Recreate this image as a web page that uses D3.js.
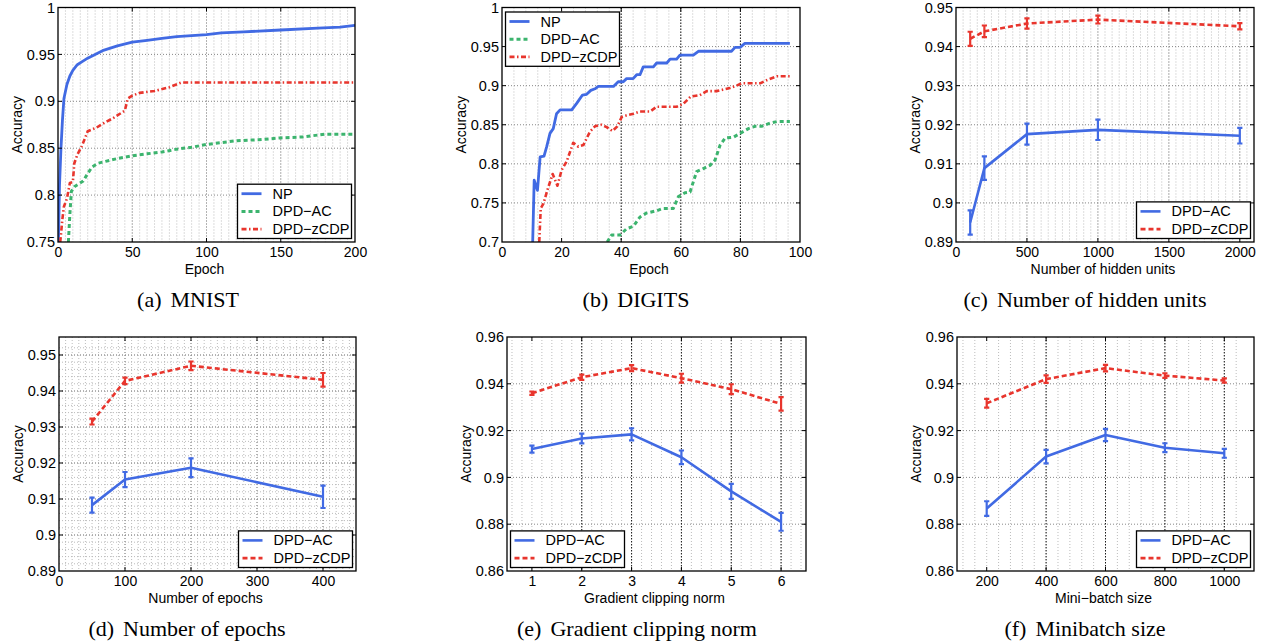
<!DOCTYPE html>
<html>
<head>
<meta charset="utf-8">
<script src="https://cdn.jsdelivr.net/npm/d3@7"></script>
<style>
  body { margin: 0; background: #fff; }
  svg { display: block; }
</style>
</head>
<body>
<div id="chart"></div>
<script>
// ---------- data ----------

// (a) MNIST
const mnistNpEpoch = [0.3, 1, 2, 3, 4, 6, 8, 10, 13, 16, 20, 25, 30, 40, 50, 60, 70, 80, 90, 100, 110, 125, 150, 175, 190, 200];
const mnistNpAcc = [0.75, 0.81, 0.85, 0.88, 0.903, 0.918, 0.927, 0.933, 0.939, 0.942, 0.946, 0.950, 0.954, 0.959, 0.963, 0.965, 0.967, 0.969, 0.970, 0.971, 0.973, 0.974, 0.976, 0.978, 0.979, 0.981];
const mnistAcEpoch = [7, 8, 9, 11, 14, 17, 20, 23, 27, 32, 40, 50, 60, 70, 80, 90, 100, 110, 120, 135, 150, 165, 180, 190, 200];
const mnistAcAcc = [0.75, 0.78, 0.804, 0.809, 0.812, 0.815, 0.823, 0.830, 0.834, 0.836, 0.839, 0.842, 0.844, 0.846, 0.849, 0.851, 0.854, 0.856, 0.858, 0.859, 0.861, 0.862, 0.865, 0.865, 0.865];
const mnistZcdpEpoch = [1.5, 3, 4, 6, 8, 10, 11, 13, 16, 18, 20, 23, 26, 30, 37, 45, 47, 50, 55, 65, 75, 83, 90, 120, 150, 200];
const mnistZcdpAcc = [0.75, 0.775, 0.788, 0.796, 0.813, 0.814, 0.834, 0.843, 0.852, 0.86, 0.868, 0.870, 0.872, 0.876, 0.882, 0.890, 0.903, 0.906, 0.909, 0.911, 0.915, 0.920, 0.920, 0.920, 0.920, 0.920];

// (b) DIGITS
const digitsNpEpoch = [10.3, 10.8, 11.9, 12.8, 14.1, 15, 16.1, 17.2, 18.3, 19.5, 23.4, 25, 27, 28.4, 29.8, 31.2, 32.3, 37.4, 39, 40.7, 41.8, 44, 45.2, 46.3, 47.4, 50.8, 51.9, 55.3, 56.4, 58.6, 59.7, 64.2, 65.9, 77, 78.2, 79.9, 81.5, 96.6];
const digitsNpAcc = [0.70, 0.779, 0.766, 0.809, 0.81, 0.822, 0.839, 0.845, 0.864, 0.869, 0.869, 0.877, 0.888, 0.889, 0.894, 0.896, 0.899, 0.899, 0.905, 0.905, 0.909, 0.909, 0.914, 0.914, 0.924, 0.924, 0.929, 0.929, 0.934, 0.934, 0.939, 0.939, 0.944, 0.944, 0.949, 0.949, 0.954, 0.954];
const digitsAcEpoch = [35.3, 36.8, 39.6, 41.8, 44.1, 46.3, 48.5, 51.9, 54.1, 57.5, 59.2, 61.4, 63.1, 65.3, 67.6, 69.8, 71.5, 73.2, 74.9, 77.6, 79.9, 82.7, 84.9, 87.1, 89.9, 92.2, 96.6];
const digitsAcAcc = [0.70, 0.709, 0.709, 0.717, 0.72, 0.732, 0.737, 0.74, 0.743, 0.743, 0.758, 0.763, 0.764, 0.79, 0.794, 0.798, 0.805, 0.824, 0.833, 0.834, 0.839, 0.845, 0.848, 0.848, 0.852, 0.854, 0.854];
const digitsZcdpEpoch = [12.5, 13, 13.9, 15.2, 17, 18.6, 20, 21.7, 23.9, 25.6, 27.3, 29.5, 31.2, 33.4, 35.1, 37.1, 38.7, 40.2, 41.8, 44.1, 46.3, 49.7, 51.9, 58.6, 60.9, 63.3, 66.4, 68.7, 72, 76.5, 78.7, 80.4, 86.6, 88.8, 92.2, 96.6];
const digitsZcdpAcc = [0.70, 0.743, 0.749, 0.766, 0.787, 0.772, 0.792, 0.803, 0.827, 0.822, 0.824, 0.841, 0.848, 0.850, 0.847, 0.842, 0.848, 0.86, 0.862, 0.864, 0.867, 0.867, 0.873, 0.873, 0.877, 0.886, 0.888, 0.893, 0.893, 0.897, 0.9, 0.903, 0.903, 0.907, 0.912, 0.912];

// (c) number of hidden units
const hiddenUnits = [100, 200, 500, 1000, 2000];
const hiddenAcMean = [0.8950, 0.9089, 0.9176, 0.9187, 0.9172];
const hiddenAcErr = [0.0031, 0.0030, 0.0027, 0.0026, 0.0020];
const hiddenZcdpMean = [0.9420, 0.9439, 0.9459, 0.9469, 0.9452];
const hiddenZcdpErr = [0.0018, 0.0015, 0.0013, 0.0010, 0.0008];

// (d) number of epochs
const numEpochs = [50, 100, 200, 400];
const epochsAcMean = [0.9083, 0.9154, 0.9187, 0.9106];
const epochsAcErr = [0.0021, 0.0021, 0.0026, 0.0031];
const epochsZcdpMean = [0.9315, 0.9428, 0.9470, 0.9431];
const epochsZcdpErr = [0.0008, 0.0009, 0.0012, 0.0019];

// (e) gradient clipping norm
const clipNorm = [1, 2, 3, 4, 5, 6];
const clipAcMean = [0.9121, 0.9166, 0.9184, 0.9086, 0.8940, 0.8810];
const clipAcErr = [0.0015, 0.0021, 0.0026, 0.0029, 0.0032, 0.0038];
const clipZcdpMean = [0.9360, 0.9428, 0.9467, 0.9424, 0.9377, 0.9314];
const clipZcdpErr = [0.0007, 0.0011, 0.0013, 0.0019, 0.0021, 0.0029];

// (f) minibatch size
const batchSize = [200, 400, 600, 800, 1000];
const batchAcMean = [0.8867, 0.9089, 0.9181, 0.9127, 0.9103];
const batchAcErr = [0.0031, 0.0029, 0.0026, 0.0019, 0.0019];
const batchZcdpMean = [0.9317, 0.9420, 0.9467, 0.9435, 0.9414];
const batchZcdpErr = [0.0019, 0.0016, 0.0014, 0.0010, 0.0009];

// tick values
const mnistXTicks = [0, 50, 100, 150, 200];
const mnistYTicks = [0.75, 0.8, 0.85, 0.9, 0.95, 1];
const digitsXTicks = [0, 20, 40, 60, 80, 100];
const digitsYTicks = [0.7, 0.75, 0.8, 0.85, 0.9, 0.95, 1];
const hiddenXTicks = [0, 500, 1000, 1500, 2000];
const hiddenYTicks = [0.89, 0.9, 0.91, 0.92, 0.93, 0.94, 0.95];
const epochsXTicks = [0, 100, 200, 300, 400];
const epochsYTicks = [0.89, 0.9, 0.91, 0.92, 0.93, 0.94, 0.95];
const clipXTicks = [1, 2, 3, 4, 5, 6];
const clipYTicks = [0.86, 0.88, 0.9, 0.92, 0.94, 0.96];
const batchXTicks = [200, 400, 600, 800, 1000];
const batchYTicks = [0.86, 0.88, 0.9, 0.92, 0.94, 0.96];

const labelNP = 'NP', labelAC = 'DPD\u2212AC', labelZCDP = 'DPD\u2212zCDP';

// ---------- styles and layout ----------
const fig_width = 1263, fig_height = 642;
const sansFont = '"Liberation Sans", Arial, Helvetica, sans-serif';
const serifFont = '"Liberation Serif", "Times New Roman", serif';
const tickFmt = d3.format( '~g' );

const blue = '#416ae3', green = '#3cb46e', red = '#e8352d';
const lineStyles = {
  np:       { color: blue,  width: 2.8, dash: null },
  acDash:   { color: green, width: 3,   dash: '4,3' },
  zcdpDot:  { color: red,   width: 2.6, dash: '5,2.5,1.5,2.5' },
  acSolid:  { color: blue,  width: 2.6, dash: null },
  zcdpDash: { color: red,   width: 2.6, dash: '5,3' }
};

const panels = [
  { left: 58, top: 7.5, w: 297, h: 234.5, xDomain: [0, 200], yDomain: [0.75, 1],
    xTicks: mnistXTicks, yTicks: mnistYTicks, xMinor: 5, yMinor: null, darkX: false,
    xTitle: 'Epoch', caption: ['(a)', 'MNIST'], captionX: 188, legend: 'br',
    series: [
      { x: mnistNpEpoch, y: mnistNpAcc, style: 'np', label: labelNP },
      { x: mnistAcEpoch, y: mnistAcAcc, style: 'acDash', label: labelAC },
      { x: mnistZcdpEpoch, y: mnistZcdpAcc, style: 'zcdpDot', label: labelZCDP } ] },
  { left: 502, top: 7.5, w: 298, h: 234.5, xDomain: [0, 100], yDomain: [0.7, 1],
    xTicks: digitsXTicks, yTicks: digitsYTicks, xMinor: 4, yMinor: null, darkX: true,
    xTitle: 'Epoch', caption: ['(b)', 'DIGITS'], captionX: 636, legend: 'tl',
    series: [
      { x: digitsNpEpoch, y: digitsNpAcc, style: 'np', label: labelNP },
      { x: digitsAcEpoch, y: digitsAcAcc, style: 'acDash', label: labelAC },
      { x: digitsZcdpEpoch, y: digitsZcdpAcc, style: 'zcdpDot', label: labelZCDP } ] },
  { left: 956, top: 7.5, w: 298, h: 234.5, xDomain: [0, 2100], yDomain: [0.89, 0.95],
    xTicks: hiddenXTicks, yTicks: hiddenYTicks, xMinor: 50, yMinor: null, darkX: false,
    xTitle: 'Number of hidden units', caption: ['(c)', 'Number of hidden units'], captionX: 1085, legend: 'br',
    series: [
      { x: hiddenUnits, y: hiddenAcMean, err: hiddenAcErr, style: 'acSolid', label: labelAC },
      { x: hiddenUnits, y: hiddenZcdpMean, err: hiddenZcdpErr, style: 'zcdpDash', label: labelZCDP } ] },
  { left: 59, top: 337, w: 297, h: 234, xDomain: [0, 450], yDomain: [0.89, 0.955],
    xTicks: epochsXTicks, yTicks: epochsYTicks, xMinor: 10, yMinor: 0.002, darkX: false,
    xTitle: 'Number of epochs', caption: ['(d)', 'Number of epochs'], captionX: 187, legend: 'br',
    series: [
      { x: numEpochs, y: epochsAcMean, err: epochsAcErr, style: 'acSolid', label: labelAC },
      { x: numEpochs, y: epochsZcdpMean, err: epochsZcdpErr, style: 'zcdpDash', label: labelZCDP } ] },
  { left: 507, top: 337, w: 299, h: 234, xDomain: [0.5, 6.5], yDomain: [0.86, 0.96],
    xTicks: clipXTicks, yTicks: clipYTicks, xMinor: 0.2, yMinor: null, darkX: true,
    xTitle: 'Gradient clipping norm', caption: ['(e)', 'Gradient clipping norm'], captionX: 637, legend: 'bl',
    series: [
      { x: clipNorm, y: clipAcMean, err: clipAcErr, style: 'acSolid', label: labelAC },
      { x: clipNorm, y: clipZcdpMean, err: clipZcdpErr, style: 'zcdpDash', label: labelZCDP } ] },
  { left: 957, top: 337, w: 297, h: 234, xDomain: [100, 1100], yDomain: [0.86, 0.96],
    xTicks: batchXTicks, yTicks: batchYTicks, xMinor: 40, yMinor: null, darkX: true,
    xTitle: 'Mini\u2212batch size', caption: ['(f)', 'Minibatch size'], captionX: 1085, legend: 'br',
    series: [
      { x: batchSize, y: batchAcMean, err: batchAcErr, style: 'acSolid', label: labelAC },
      { x: batchSize, y: batchZcdpMean, err: batchZcdpErr, style: 'zcdpDash', label: labelZCDP } ] }
];

const svg = d3.select( 'div#chart' )
  .append( 'svg' )
    .attr( 'width', fig_width )
    .attr( 'height', fig_height );

// minor grid positions aligned with the major ticks
function minorRange( domain, step ) {
  const start = Math.ceil( domain[0] / step - 1e-9 ) * step;
  return d3.range( start, domain[1] - step / 2, step ).filter( function( v ) { return v > domain[0] + 1e-9; } );
}

function drawPanel( p, idx ) {
  const x = d3.scaleLinear().domain( p.xDomain ).range( [ 0, p.w ] );
  const y = d3.scaleLinear().domain( p.yDomain ).range( [ p.h, 0 ] );

  const g = svg.append( 'g' )
    .attr( 'transform', 'translate(' + p.left + ',' + p.top + ')' );

  // minor grid
  if ( p.xMinor ) {
    g.append( 'g' ).selectAll( 'line' )
      .data( minorRange( p.xDomain, p.xMinor ) )
      .enter().append( 'line' )
        .attr( 'x1', function( d ) { return x( d ); } )
        .attr( 'x2', function( d ) { return x( d ); } )
        .attr( 'y1', 0 ).attr( 'y2', p.h )
        .attr( 'stroke', '#b4b4b4' ).attr( 'stroke-width', 0.9 ).attr( 'stroke-dasharray', '1,2' );
  }
  if ( p.yMinor ) {
    g.append( 'g' ).selectAll( 'line' )
      .data( minorRange( p.yDomain, p.yMinor ) )
      .enter().append( 'line' )
        .attr( 'y1', function( d ) { return y( d ); } )
        .attr( 'y2', function( d ) { return y( d ); } )
        .attr( 'x1', 0 ).attr( 'x2', p.w )
        .attr( 'stroke', '#b4b4b4' ).attr( 'stroke-width', 0.9 ).attr( 'stroke-dasharray', '1,2' );
  }

  // major grid
  const innerX = p.xTicks.filter( function( v ) { return v > p.xDomain[0] && v < p.xDomain[1]; } );
  const innerY = p.yTicks.filter( function( v ) { return v > p.yDomain[0] && v < p.yDomain[1]; } );
  g.append( 'g' ).selectAll( 'line' )
    .data( innerY )
    .enter().append( 'line' )
      .attr( 'y1', function( d ) { return y( d ); } )
      .attr( 'y2', function( d ) { return y( d ); } )
      .attr( 'x1', 0 ).attr( 'x2', p.w )
      .attr( 'stroke', '#888' ).attr( 'stroke-width', 1 ).attr( 'stroke-dasharray', '1,2' );
  g.append( 'g' ).selectAll( 'line' )
    .data( p.darkX ? innerX.slice( 1 ) : innerX )
    .enter().append( 'line' )
      .attr( 'x1', function( d ) { return x( d ); } )
      .attr( 'x2', function( d ) { return x( d ); } )
      .attr( 'y1', 0 ).attr( 'y2', p.h )
      .attr( 'stroke', p.darkX ? '#1a1a1a' : '#888' )
      .attr( 'stroke-width', 1 )
      .attr( 'stroke-dasharray', p.darkX ? '1.5,1.5' : '1,2' );

  // clip for the curves
  const clipId = 'clip' + idx;
  g.append( 'clipPath' ).attr( 'id', clipId )
    .append( 'rect' ).attr( 'width', p.w ).attr( 'height', p.h );

  const line = d3.line()
    .x( function( d ) { return x( d[0] ); } )
    .y( function( d ) { return y( d[1] ); } );

  p.series.forEach( function( s ) {
    const st = lineStyles[ s.style ];
    const pts = d3.zip( s.x, s.y );
    g.append( 'path' )
      .datum( pts )
      .attr( 'clip-path', 'url(#' + clipId + ')' )
      .attr( 'd', line )
      .attr( 'fill', 'none' )
      .attr( 'stroke', st.color )
      .attr( 'stroke-width', st.width )
      .attr( 'stroke-dasharray', st.dash )
      .attr( 'stroke-linejoin', 'round' );

    if ( s.err ) {
      const cap = 2.6;
      g.append( 'g' ).selectAll( 'path' )
        .data( d3.zip( s.x, s.y, s.err ) )
        .enter().append( 'path' )
          .attr( 'd', function( d ) {
            const cx = x( d[0] ), lo = y( d[1] - d[2] ), hi = y( d[1] + d[2] );
            return 'M' + ( cx - cap ) + ',' + lo + 'H' + ( cx + cap ) +
                   'M' + cx + ',' + lo + 'V' + hi +
                   'M' + ( cx - cap ) + ',' + hi + 'H' + ( cx + cap );
          } )
          .attr( 'fill', 'none' )
          .attr( 'stroke', st.color )
          .attr( 'stroke-width', 2.2 );
    }
  } );

  // frame and inward ticks on all four sides
  g.append( 'rect' )
    .attr( 'width', p.w ).attr( 'height', p.h )
    .attr( 'fill', 'none' ).attr( 'stroke', '#000' ).attr( 'stroke-width', 1.3 );
  const tl = 4;
  const tickG = g.append( 'g' ).attr( 'stroke', '#000' ).attr( 'stroke-width', 1 );
  innerX.forEach( function( v ) {
    tickG.append( 'line' ).attr( 'x1', x( v ) ).attr( 'x2', x( v ) ).attr( 'y1', p.h ).attr( 'y2', p.h - tl );
    tickG.append( 'line' ).attr( 'x1', x( v ) ).attr( 'x2', x( v ) ).attr( 'y1', 0 ).attr( 'y2', tl );
  } );
  innerY.forEach( function( v ) {
    tickG.append( 'line' ).attr( 'y1', y( v ) ).attr( 'y2', y( v ) ).attr( 'x1', 0 ).attr( 'x2', tl );
    tickG.append( 'line' ).attr( 'y1', y( v ) ).attr( 'y2', y( v ) ).attr( 'x1', p.w ).attr( 'x2', p.w - tl );
  } );

  // tick labels through d3 axes
  g.append( 'g' )
    .attr( 'transform', 'translate(0,' + p.h + ')' )
    .call( d3.axisBottom( x ).tickValues( p.xTicks ).tickFormat( tickFmt ).tickSize( 0 ).tickPadding( 5 ) )
    .attr( 'font-size', 14 ).attr( 'font-family', sansFont )
    .call( function( a ) { a.select( '.domain' ).remove(); } );
  g.append( 'g' )
    .call( d3.axisLeft( y ).tickValues( p.yTicks ).tickFormat( tickFmt ).tickSize( 0 ).tickPadding( 3 ) )
    .attr( 'font-size', 14.5 ).attr( 'font-family', sansFont )
    .call( function( a ) { a.select( '.domain' ).remove(); } );

  // axis titles
  g.append( 'text' )
    .attr( 'x', p.w / 2 - 2 ).attr( 'y', p.h + 31.5 )
    .attr( 'text-anchor', 'middle' )
    .attr( 'font-family', sansFont ).attr( 'font-size', 14 )
    .text( p.xTitle );
  g.append( 'text' )
    .attr( 'transform', 'translate(-36,' + ( p.h / 2 ) + ') rotate(-90)' )
    .attr( 'text-anchor', 'middle' )
    .attr( 'font-family', sansFont ).attr( 'font-size', 14 )
    .text( 'Accuracy' );

  // legend
  const rowH = 17.7, lw = 114, lh = p.series.length * rowH + 1.2, inset = 3.5;
  const lx = p.legend.charAt( 1 ) === 'l' ? inset : p.w - inset - lw;
  const ly = p.legend.charAt( 0 ) === 't' ? inset + 1 : p.h - inset - lh;
  const leg = g.append( 'g' ).attr( 'transform', 'translate(' + lx + ',' + ly + ')' );
  leg.append( 'rect' )
    .attr( 'width', lw ).attr( 'height', lh )
    .attr( 'fill', '#fff' ).attr( 'stroke', '#000' ).attr( 'stroke-width', 1.3 );
  p.series.forEach( function( s, i ) {
    const st = lineStyles[ s.style ];
    const cy = 9.5 + i * rowH;
    leg.append( 'line' )
      .attr( 'x1', 4 ).attr( 'x2', 24 ).attr( 'y1', cy ).attr( 'y2', cy )
      .attr( 'stroke', st.color ).attr( 'stroke-width', st.width )
      .attr( 'stroke-dasharray', st.dash );
    leg.append( 'text' )
      .attr( 'x', 35 ).attr( 'y', cy + 5 )
      .attr( 'font-family', sansFont ).attr( 'font-size', 14.5 )
      .text( s.label );
  } );

  // sub-caption below the panel
  const cap = svg.append( 'text' )
    .attr( 'x', p.captionX ).attr( 'y', p.top + p.h + 65 )
    .attr( 'text-anchor', 'middle' )
    .attr( 'font-family', serifFont ).attr( 'font-size', 22 );
  cap.append( 'tspan' ).text( p.caption[0] );
  cap.append( 'tspan' ).attr( 'dx', 9 ).text( p.caption[1] );
}

panels.forEach( drawPanel );
</script>
</body>
</html>
